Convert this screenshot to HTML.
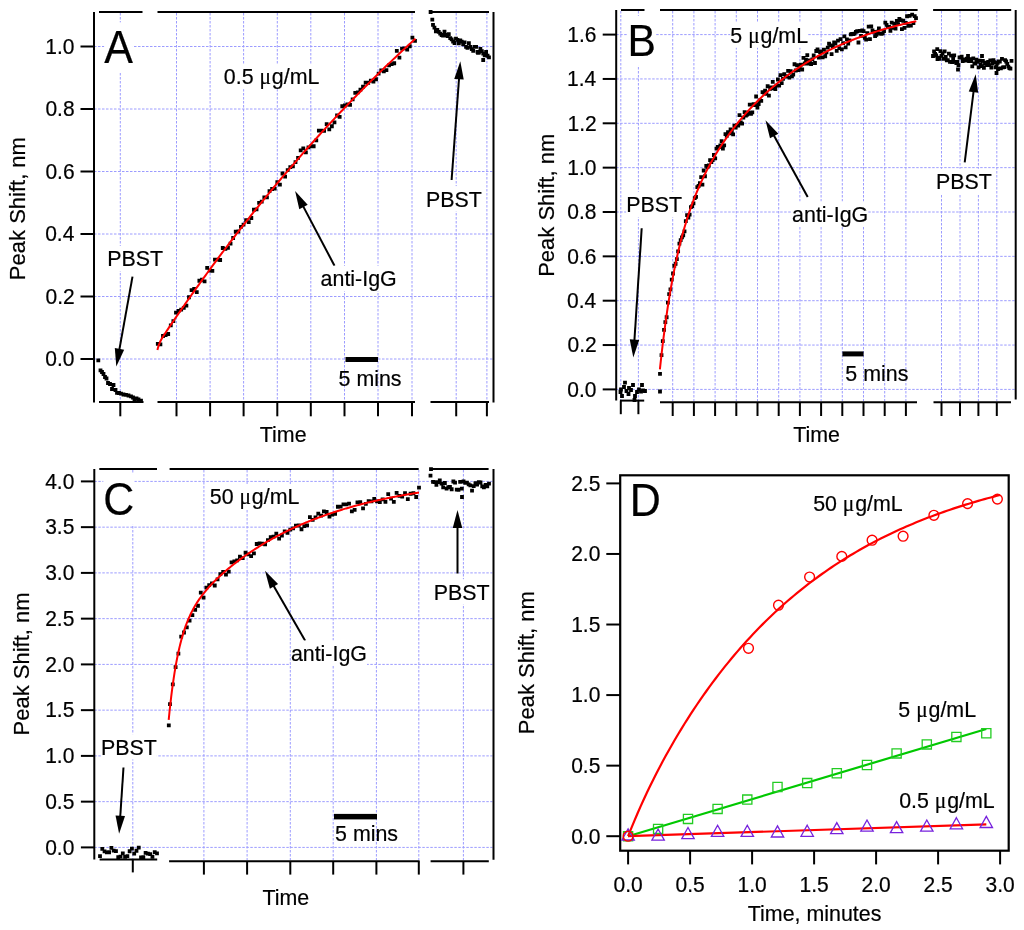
<!DOCTYPE html>
<html><head><meta charset="utf-8"><title>Peak shift</title>
<style>html,body{margin:0;padding:0;background:#fff;}svg{display:block;will-change:transform;}</style>
</head><body>
<svg width="1024" height="930" viewBox="0 0 1024 930">
<rect width="1024" height="930" fill="#fff"/>
<style>text{stroke:#000;stroke-width:0.2px;}</style>
<g font-family='"Liberation Sans", sans-serif' fill="#000">
<line x1="120.3" y1="13" x2="120.3" y2="402" stroke="#9c9cff" stroke-width="1" stroke-dasharray="2.5,1.5"/>
<line x1="176.5" y1="13" x2="176.5" y2="402" stroke="#9c9cff" stroke-width="1" stroke-dasharray="2.5,1.5"/>
<line x1="210.1" y1="13" x2="210.1" y2="402" stroke="#9c9cff" stroke-width="1" stroke-dasharray="2.5,1.5"/>
<line x1="243.6" y1="13" x2="243.6" y2="402" stroke="#9c9cff" stroke-width="1" stroke-dasharray="2.5,1.5"/>
<line x1="277.3" y1="13" x2="277.3" y2="402" stroke="#9c9cff" stroke-width="1" stroke-dasharray="2.5,1.5"/>
<line x1="310.8" y1="13" x2="310.8" y2="402" stroke="#9c9cff" stroke-width="1" stroke-dasharray="2.5,1.5"/>
<line x1="344.5" y1="13" x2="344.5" y2="402" stroke="#9c9cff" stroke-width="1" stroke-dasharray="2.5,1.5"/>
<line x1="378" y1="13" x2="378" y2="402" stroke="#9c9cff" stroke-width="1" stroke-dasharray="2.5,1.5"/>
<line x1="412" y1="13" x2="412" y2="402" stroke="#9c9cff" stroke-width="1" stroke-dasharray="2.5,1.5"/>
<line x1="456.2" y1="13" x2="456.2" y2="402" stroke="#9c9cff" stroke-width="1" stroke-dasharray="2.5,1.5"/>
<line x1="486.9" y1="13" x2="486.9" y2="402" stroke="#9c9cff" stroke-width="1" stroke-dasharray="2.5,1.5"/>
<line x1="94" y1="359" x2="492.5" y2="359" stroke="#9c9cff" stroke-width="1" stroke-dasharray="2.5,1.5"/>
<line x1="94" y1="296.5" x2="492.5" y2="296.5" stroke="#9c9cff" stroke-width="1" stroke-dasharray="2.5,1.5"/>
<line x1="94" y1="234" x2="492.5" y2="234" stroke="#9c9cff" stroke-width="1" stroke-dasharray="2.5,1.5"/>
<line x1="94" y1="171.5" x2="492.5" y2="171.5" stroke="#9c9cff" stroke-width="1" stroke-dasharray="2.5,1.5"/>
<line x1="94" y1="109" x2="492.5" y2="109" stroke="#9c9cff" stroke-width="1" stroke-dasharray="2.5,1.5"/>
<line x1="94" y1="46.5" x2="492.5" y2="46.5" stroke="#9c9cff" stroke-width="1" stroke-dasharray="2.5,1.5"/>
<line x1="94" y1="12" x2="94" y2="402.5" stroke="#000" stroke-width="2"/>
<line x1="493.5" y1="12" x2="493.5" y2="402.5" stroke="#000" stroke-width="2"/>
<line x1="99" y1="12" x2="142.5" y2="12" stroke="#000" stroke-width="2"/>
<line x1="157.5" y1="12" x2="415" y2="12" stroke="#000" stroke-width="2"/>
<line x1="429" y1="12" x2="489" y2="12" stroke="#000" stroke-width="2"/>
<line x1="99" y1="402" x2="143.5" y2="402" stroke="#000" stroke-width="2"/>
<line x1="157.5" y1="402" x2="415" y2="402" stroke="#000" stroke-width="2"/>
<line x1="430.5" y1="402" x2="489" y2="402" stroke="#000" stroke-width="2"/>
<line x1="120.3" y1="402" x2="120.3" y2="416.3" stroke="#000" stroke-width="2"/>
<line x1="176.5" y1="402" x2="176.5" y2="416.3" stroke="#000" stroke-width="2"/>
<line x1="210.1" y1="402" x2="210.1" y2="416.3" stroke="#000" stroke-width="2"/>
<line x1="243.6" y1="402" x2="243.6" y2="416.3" stroke="#000" stroke-width="2"/>
<line x1="277.3" y1="402" x2="277.3" y2="416.3" stroke="#000" stroke-width="2"/>
<line x1="310.8" y1="402" x2="310.8" y2="416.3" stroke="#000" stroke-width="2"/>
<line x1="344.5" y1="402" x2="344.5" y2="416.3" stroke="#000" stroke-width="2"/>
<line x1="378" y1="402" x2="378" y2="416.3" stroke="#000" stroke-width="2"/>
<line x1="412" y1="402" x2="412" y2="416.3" stroke="#000" stroke-width="2"/>
<line x1="456.2" y1="402" x2="456.2" y2="416.3" stroke="#000" stroke-width="2"/>
<line x1="486.9" y1="402" x2="486.9" y2="416.3" stroke="#000" stroke-width="2"/>
<line x1="80.5" y1="359" x2="94" y2="359" stroke="#000" stroke-width="2"/>
<text transform="translate(74.52,366.3) scale(1,1.055)" font-size="21.0" text-anchor="end" >0.0</text>
<line x1="80.5" y1="296.5" x2="94" y2="296.5" stroke="#000" stroke-width="2"/>
<text transform="translate(74.76,303.8) scale(1,1.055)" font-size="21.0" text-anchor="end" >0.2</text>
<line x1="80.5" y1="234" x2="94" y2="234" stroke="#000" stroke-width="2"/>
<text transform="translate(74.32,241.3) scale(1,1.055)" font-size="21.0" text-anchor="end" >0.4</text>
<line x1="80.5" y1="171.5" x2="94" y2="171.5" stroke="#000" stroke-width="2"/>
<text transform="translate(74.62,178.8) scale(1,1.055)" font-size="21.0" text-anchor="end" >0.6</text>
<line x1="80.5" y1="109" x2="94" y2="109" stroke="#000" stroke-width="2"/>
<text transform="translate(74.61,116.3) scale(1,1.055)" font-size="21.0" text-anchor="end" >0.8</text>
<line x1="80.5" y1="46.5" x2="94" y2="46.5" stroke="#000" stroke-width="2"/>
<text transform="translate(74.52,53.8) scale(1,1.055)" font-size="21.0" text-anchor="end" >1.0</text>
<path d="M96.4 358.5h3.8v3.8h-3.8zM98.6 368.4h3.8v3.8h-3.8zM100.1 370.1h3.8v3.8h-3.8zM101.6 372.1h3.8v3.8h-3.8zM103.1 375.1h3.8v3.8h-3.8zM104.6 376.6h3.8v3.8h-3.8zM106.1 381.1h3.8v3.8h-3.8zM108.1 382.1h3.8v3.8h-3.8zM110.1 387.1h3.8v3.8h-3.8zM111.6 383.1h3.8v3.8h-3.8zM113.6 388.1h3.8v3.8h-3.8zM115.1 390.9h3.8v3.8h-3.8zM117.1 391.1h3.8v3.8h-3.8zM119.1 391.7h3.8v3.8h-3.8zM121.6 392.6h3.8v3.8h-3.8zM124.1 392.9h3.8v3.8h-3.8zM126.6 393.6h3.8v3.8h-3.8zM129.1 394.5h3.8v3.8h-3.8zM131.1 395.6h3.8v3.8h-3.8zM132.6 397.1h3.8v3.8h-3.8zM134.6 396.6h3.8v3.8h-3.8zM136.6 397.6h3.8v3.8h-3.8zM139.1 398.7h3.8v3.8h-3.8zM155.9 341.94h3.8v3.8h-3.8zM158.5 342.45h3.8v3.8h-3.8zM161.1 334.08h3.8v3.8h-3.8zM163.69 333.19h3.8v3.8h-3.8zM166.29 332.09h3.8v3.8h-3.8zM168.89 323.41h3.8v3.8h-3.8zM171.49 319.18h3.8v3.8h-3.8zM174.09 310.65h3.8v3.8h-3.8zM176.68 309.03h3.8v3.8h-3.8zM179.28 307.81h3.8v3.8h-3.8zM181.88 306.04h3.8v3.8h-3.8zM184.48 303.68h3.8v3.8h-3.8zM187.08 295.33h3.8v3.8h-3.8zM189.67 288.18h3.8v3.8h-3.8zM192.27 286.95h3.8v3.8h-3.8zM194.87 290.14h3.8v3.8h-3.8zM197.47 278.85h3.8v3.8h-3.8zM200.07 277.86h3.8v3.8h-3.8zM202.66 279.54h3.8v3.8h-3.8zM205.26 265.99h3.8v3.8h-3.8zM207.86 268.77h3.8v3.8h-3.8zM210.46 269.07h3.8v3.8h-3.8zM213.06 257.63h3.8v3.8h-3.8zM215.65 257.63h3.8v3.8h-3.8zM218.25 258.11h3.8v3.8h-3.8zM220.85 246.11h3.8v3.8h-3.8zM223.45 246.95h3.8v3.8h-3.8zM226.05 246.02h3.8v3.8h-3.8zM228.64 241.71h3.8v3.8h-3.8zM231.24 236.1h3.8v3.8h-3.8zM233.84 229.83h3.8v3.8h-3.8zM236.44 229.61h3.8v3.8h-3.8zM239.04 224.96h3.8v3.8h-3.8zM241.63 222.79h3.8v3.8h-3.8zM244.23 218.25h3.8v3.8h-3.8zM246.83 220.15h3.8v3.8h-3.8zM249.43 216.11h3.8v3.8h-3.8zM252.03 207.85h3.8v3.8h-3.8zM254.62 207.45h3.8v3.8h-3.8zM257.22 200.96h3.8v3.8h-3.8zM259.82 199.7h3.8v3.8h-3.8zM262.42 195.4h3.8v3.8h-3.8zM265.02 195.57h3.8v3.8h-3.8zM267.61 189.26h3.8v3.8h-3.8zM270.21 187.09h3.8v3.8h-3.8zM272.81 186.82h3.8v3.8h-3.8zM275.41 180.34h3.8v3.8h-3.8zM278.01 182.67h3.8v3.8h-3.8zM280.6 171.6h3.8v3.8h-3.8zM283.2 174.7h3.8v3.8h-3.8zM285.8 168.15h3.8v3.8h-3.8zM288.4 165.16h3.8v3.8h-3.8zM290.99 164.42h3.8v3.8h-3.8zM293.59 160.19h3.8v3.8h-3.8zM296.19 156.02h3.8v3.8h-3.8zM298.79 148.5h3.8v3.8h-3.8zM301.39 146.54h3.8v3.8h-3.8zM303.98 150.38h3.8v3.8h-3.8zM306.58 145.42h3.8v3.8h-3.8zM309.18 144.4h3.8v3.8h-3.8zM311.78 144.35h3.8v3.8h-3.8zM314.38 138.47h3.8v3.8h-3.8zM316.97 128.68h3.8v3.8h-3.8zM319.57 128.64h3.8v3.8h-3.8zM322.17 128.92h3.8v3.8h-3.8zM324.77 122.16h3.8v3.8h-3.8zM327.37 127.38h3.8v3.8h-3.8zM329.96 124.37h3.8v3.8h-3.8zM332.56 120.52h3.8v3.8h-3.8zM335.16 113.62h3.8v3.8h-3.8zM337.76 114.93h3.8v3.8h-3.8zM340.36 104.37h3.8v3.8h-3.8zM342.95 103.6h3.8v3.8h-3.8zM345.55 102.59h3.8v3.8h-3.8zM348.15 102.96h3.8v3.8h-3.8zM350.75 97.46h3.8v3.8h-3.8zM353.35 90.95h3.8v3.8h-3.8zM355.94 90.57h3.8v3.8h-3.8zM358.54 87.72h3.8v3.8h-3.8zM361.14 84.83h3.8v3.8h-3.8zM363.74 80.73h3.8v3.8h-3.8zM366.34 80.87h3.8v3.8h-3.8zM368.93 78.65h3.8v3.8h-3.8zM371.53 79.66h3.8v3.8h-3.8zM374.13 77.34h3.8v3.8h-3.8zM376.73 71.78h3.8v3.8h-3.8zM379.33 68.56h3.8v3.8h-3.8zM381.92 69.53h3.8v3.8h-3.8zM384.52 68.22h3.8v3.8h-3.8zM387.12 63.39h3.8v3.8h-3.8zM389.72 62.29h3.8v3.8h-3.8zM392.32 61.34h3.8v3.8h-3.8zM394.91 49h3.8v3.8h-3.8zM397.51 55.73h3.8v3.8h-3.8zM400.11 46.71h3.8v3.8h-3.8zM402.71 46.48h3.8v3.8h-3.8zM405.31 47.6h3.8v3.8h-3.8zM407.9 44.33h3.8v3.8h-3.8zM410.5 35.68h3.8v3.8h-3.8zM413.1 38.93h3.8v3.8h-3.8zM428.7 10.1h3.8v3.8h-3.8zM430.4 17.7h3.8v3.8h-3.8zM431.1 23.04h3.8v3.8h-3.8zM432.54 25.76h3.8v3.8h-3.8zM433.97 29.55h3.8v3.8h-3.8zM435.41 27.96h3.8v3.8h-3.8zM436.84 29.93h3.8v3.8h-3.8zM438.28 31.63h3.8v3.8h-3.8zM439.72 33.1h3.8v3.8h-3.8zM441.15 33.58h3.8v3.8h-3.8zM442.59 29.63h3.8v3.8h-3.8zM444.02 33.09h3.8v3.8h-3.8zM445.46 34.14h3.8v3.8h-3.8zM446.89 32.31h3.8v3.8h-3.8zM448.33 36.2h3.8v3.8h-3.8zM449.77 37.4h3.8v3.8h-3.8zM451.2 39.59h3.8v3.8h-3.8zM452.64 41.09h3.8v3.8h-3.8zM454.07 36.66h3.8v3.8h-3.8zM455.51 38.03h3.8v3.8h-3.8zM456.95 41.33h3.8v3.8h-3.8zM458.38 38.51h3.8v3.8h-3.8zM459.82 39.65h3.8v3.8h-3.8zM461.25 42.45h3.8v3.8h-3.8zM462.69 40.4h3.8v3.8h-3.8zM464.13 44.88h3.8v3.8h-3.8zM465.56 45.91h3.8v3.8h-3.8zM467 41.19h3.8v3.8h-3.8zM468.43 44.94h3.8v3.8h-3.8zM469.87 47.21h3.8v3.8h-3.8zM471.31 48.92h3.8v3.8h-3.8zM472.74 45.01h3.8v3.8h-3.8zM474.18 44.91h3.8v3.8h-3.8zM475.61 50.02h3.8v3.8h-3.8zM477.05 50.8h3.8v3.8h-3.8zM478.48 46.88h3.8v3.8h-3.8zM479.92 49.24h3.8v3.8h-3.8zM481.36 51.81h3.8v3.8h-3.8zM482.79 53.42h3.8v3.8h-3.8zM484.23 49.88h3.8v3.8h-3.8zM485.66 53.86h3.8v3.8h-3.8zM487.1 55.57h3.8v3.8h-3.8zM481.3 58.1h3.8v3.8h-3.8zM476.1 51h3.8v3.8h-3.8z" fill="#000"/>
<polyline points="157.4,349.94 158.7,345.26 159.99,342.06 161.29,339.52 162.59,337.31 163.88,335.25 165.18,333.25 166.48,331.29 167.78,329.35 169.07,327.43 170.37,325.51 171.67,323.59 172.96,321.69 174.26,319.78 175.56,317.89 176.85,315.99 178.15,314.1 179.45,312.22 180.75,310.34 182.04,308.47 183.34,306.6 184.64,304.74 185.93,302.88 187.23,301.02 188.53,299.17 189.82,297.33 191.12,295.49 192.42,293.65 193.72,291.82 195.01,290 196.31,288.18 197.61,286.36 198.9,284.55 200.2,282.74 201.5,280.94 202.79,279.14 204.09,277.35 205.39,275.56 206.69,273.77 207.98,271.99 209.28,270.22 210.58,268.45 211.87,266.68 213.17,264.92 214.47,263.16 215.76,261.41 217.06,259.66 218.36,257.92 219.66,256.18 220.95,254.44 222.25,252.71 223.55,250.99 224.84,249.26 226.14,247.55 227.44,245.83 228.73,244.13 230.03,242.42 231.33,240.72 232.63,239.03 233.92,237.34 235.22,235.65 236.52,233.97 237.81,232.29 239.11,230.61 240.41,228.94 241.7,227.28 243,225.62 244.3,223.96 245.59,222.31 246.89,220.66 248.19,219.02 249.49,217.38 250.78,215.74 252.08,214.11 253.38,212.48 254.67,210.86 255.97,209.24 257.27,207.63 258.56,206.01 259.86,204.41 261.16,202.81 262.46,201.21 263.75,199.61 265.05,198.02 266.35,196.44 267.64,194.85 268.94,193.28 270.24,191.7 271.53,190.13 272.83,188.57 274.13,187 275.43,185.45 276.72,183.89 278.02,182.34 279.32,180.8 280.61,179.25 281.91,177.72 283.21,176.18 284.5,174.65 285.8,173.12 287.1,171.6 288.4,170.08 289.69,168.57 290.99,167.06 292.29,165.55 293.58,164.05 294.88,162.55 296.18,161.05 297.47,159.56 298.77,158.07 300.07,156.59 301.37,155.11 302.66,153.63 303.96,152.16 305.26,150.69 306.55,149.23 307.85,147.76 309.15,146.31 310.44,144.85 311.74,143.4 313.04,141.96 314.34,140.51 315.63,139.07 316.93,137.64 318.23,136.21 319.52,134.78 320.82,133.35 322.12,131.93 323.41,130.52 324.71,129.1 326.01,127.69 327.31,126.29 328.6,124.88 329.9,123.48 331.2,122.09 332.49,120.7 333.79,119.31 335.09,117.92 336.38,116.54 337.68,115.16 338.98,113.79 340.27,112.42 341.57,111.05 342.87,109.69 344.17,108.33 345.46,106.97 346.76,105.62 348.06,104.27 349.35,102.92 350.65,101.58 351.95,100.24 353.24,98.9 354.54,97.57 355.84,96.24 357.14,94.91 358.43,93.59 359.73,92.27 361.03,90.96 362.32,89.64 363.62,88.34 364.92,87.03 366.21,85.73 367.51,84.43 368.81,83.13 370.11,81.84 371.4,80.55 372.7,79.27 374,77.98 375.29,76.7 376.59,75.43 377.89,74.16 379.18,72.89 380.48,71.62 381.78,70.36 383.08,69.1 384.37,67.84 385.67,66.59 386.97,65.34 388.26,64.09 389.56,62.85 390.86,61.61 392.15,60.37 393.45,59.13 394.75,57.9 396.05,56.68 397.34,55.45 398.64,54.23 399.94,53.01 401.23,51.79 402.53,50.58 403.83,49.37 405.12,48.17 406.42,46.96 407.72,45.76 409.02,44.57 410.31,43.37 411.61,42.18 412.91,41 414.2,39.81 415.5,38.63" fill="none" stroke="#f00" stroke-width="2.0" stroke-linejoin="round"/>
<rect x="104.22" y="22.34" width="28.68" height="50.67" fill="#fff"/>
<text transform="translate(104.22,63.4) scale(1,1.055)" font-size="43" text-anchor="start" >A</text>
<rect x="223.86" y="63.97" width="95.6" height="25.22" fill="#fff"/>
<text transform="translate(223.86,84.4) scale(1,1.055)" font-size="21.4" text-anchor="start" >0.5 <tspan font-family="Liberation Serif">μ</tspan><tspan dx="0.86">g/mL</tspan></text>
<line x1="132.5" y1="276.6" x2="119.13" y2="350.85" stroke="#000" stroke-width="2"/>
<polygon points="116.3,366.6 114.81,348.04 124.16,349.73" fill="#000"/>
<rect x="107.24" y="245.87" width="55.89" height="25.22" fill="#fff"/>
<text transform="translate(107.24,266.3) scale(1,1.055)" font-size="21.4" text-anchor="start" >PBST</text>
<line x1="334.5" y1="265.7" x2="302.56" y2="205.15" stroke="#000" stroke-width="2"/>
<polygon points="295.1,191 307.7,204.71 299.3,209.14" fill="#000"/>
<rect x="320.59" y="265.77" width="76.12" height="25.22" fill="#fff"/>
<text transform="translate(320.59,286.2) scale(1,1.055)" font-size="21.4" text-anchor="start" >anti-IgG</text>
<line x1="451.6" y1="180" x2="459.13" y2="77.26" stroke="#000" stroke-width="2"/>
<polygon points="460.3,61.3 463.72,79.6 454.25,78.9" fill="#000"/>
<rect x="426.04" y="186.07" width="55.89" height="25.22" fill="#fff"/>
<text transform="translate(426.04,206.5) scale(1,1.055)" font-size="21.4" text-anchor="start" >PBST</text>
<text transform="translate(338.54,386.3) scale(1,1.055)" font-size="21.4" text-anchor="start" >5 mins</text>
<rect x="345.5" y="357" width="32.5" height="5" fill="#000"/>
<text transform="translate(259.82,442.2) scale(1,1.055)" font-size="21.4" text-anchor="start" >Time</text>
<text transform="translate(24.7,208.6) rotate(-90)" font-size="22" text-anchor="middle">Peak Shift, nm</text>
<line x1="620.8" y1="11" x2="620.8" y2="401" stroke="#9c9cff" stroke-width="1" stroke-dasharray="2.5,1.5"/>
<line x1="638.4" y1="11" x2="638.4" y2="401" stroke="#9c9cff" stroke-width="1" stroke-dasharray="2.5,1.5"/>
<line x1="672.7" y1="11" x2="672.7" y2="401" stroke="#9c9cff" stroke-width="1" stroke-dasharray="2.5,1.5"/>
<line x1="693.9" y1="11" x2="693.9" y2="401" stroke="#9c9cff" stroke-width="1" stroke-dasharray="2.5,1.5"/>
<line x1="715.1" y1="11" x2="715.1" y2="401" stroke="#9c9cff" stroke-width="1" stroke-dasharray="2.5,1.5"/>
<line x1="736.3" y1="11" x2="736.3" y2="401" stroke="#9c9cff" stroke-width="1" stroke-dasharray="2.5,1.5"/>
<line x1="757.5" y1="11" x2="757.5" y2="401" stroke="#9c9cff" stroke-width="1" stroke-dasharray="2.5,1.5"/>
<line x1="778.7" y1="11" x2="778.7" y2="401" stroke="#9c9cff" stroke-width="1" stroke-dasharray="2.5,1.5"/>
<line x1="799.9" y1="11" x2="799.9" y2="401" stroke="#9c9cff" stroke-width="1" stroke-dasharray="2.5,1.5"/>
<line x1="821.1" y1="11" x2="821.1" y2="401" stroke="#9c9cff" stroke-width="1" stroke-dasharray="2.5,1.5"/>
<line x1="842.3" y1="11" x2="842.3" y2="401" stroke="#9c9cff" stroke-width="1" stroke-dasharray="2.5,1.5"/>
<line x1="863.5" y1="11" x2="863.5" y2="401" stroke="#9c9cff" stroke-width="1" stroke-dasharray="2.5,1.5"/>
<line x1="884.7" y1="11" x2="884.7" y2="401" stroke="#9c9cff" stroke-width="1" stroke-dasharray="2.5,1.5"/>
<line x1="905.9" y1="11" x2="905.9" y2="401" stroke="#9c9cff" stroke-width="1" stroke-dasharray="2.5,1.5"/>
<line x1="941.5" y1="11" x2="941.5" y2="401" stroke="#9c9cff" stroke-width="1" stroke-dasharray="2.5,1.5"/>
<line x1="960" y1="11" x2="960" y2="401" stroke="#9c9cff" stroke-width="1" stroke-dasharray="2.5,1.5"/>
<line x1="978.4" y1="11" x2="978.4" y2="401" stroke="#9c9cff" stroke-width="1" stroke-dasharray="2.5,1.5"/>
<line x1="996.8" y1="11" x2="996.8" y2="401" stroke="#9c9cff" stroke-width="1" stroke-dasharray="2.5,1.5"/>
<line x1="616.2" y1="389.4" x2="1014.7" y2="389.4" stroke="#9c9cff" stroke-width="1" stroke-dasharray="2.5,1.5"/>
<line x1="616.2" y1="345.05" x2="1014.7" y2="345.05" stroke="#9c9cff" stroke-width="1" stroke-dasharray="2.5,1.5"/>
<line x1="616.2" y1="300.7" x2="1014.7" y2="300.7" stroke="#9c9cff" stroke-width="1" stroke-dasharray="2.5,1.5"/>
<line x1="616.2" y1="256.35" x2="1014.7" y2="256.35" stroke="#9c9cff" stroke-width="1" stroke-dasharray="2.5,1.5"/>
<line x1="616.2" y1="212" x2="1014.7" y2="212" stroke="#9c9cff" stroke-width="1" stroke-dasharray="2.5,1.5"/>
<line x1="616.2" y1="167.65" x2="1014.7" y2="167.65" stroke="#9c9cff" stroke-width="1" stroke-dasharray="2.5,1.5"/>
<line x1="616.2" y1="123.3" x2="1014.7" y2="123.3" stroke="#9c9cff" stroke-width="1" stroke-dasharray="2.5,1.5"/>
<line x1="616.2" y1="78.95" x2="1014.7" y2="78.95" stroke="#9c9cff" stroke-width="1" stroke-dasharray="2.5,1.5"/>
<line x1="616.2" y1="34.6" x2="1014.7" y2="34.6" stroke="#9c9cff" stroke-width="1" stroke-dasharray="2.5,1.5"/>
<line x1="616.2" y1="10" x2="616.2" y2="400.5" stroke="#000" stroke-width="2"/>
<line x1="1015.7" y1="10" x2="1015.7" y2="399.5" stroke="#000" stroke-width="2"/>
<line x1="621" y1="10" x2="644.5" y2="10" stroke="#000" stroke-width="2"/>
<line x1="660" y1="10" x2="917.6" y2="10" stroke="#000" stroke-width="2"/>
<line x1="933.1" y1="10" x2="1011.2" y2="10" stroke="#000" stroke-width="2"/>
<line x1="620" y1="400.6" x2="644.2" y2="400.6" stroke="#000" stroke-width="2"/>
<line x1="620.8" y1="400.6" x2="620.8" y2="414.2" stroke="#000" stroke-width="2"/>
<line x1="638.4" y1="400.6" x2="638.4" y2="414.2" stroke="#000" stroke-width="2"/>
<line x1="660" y1="402.2" x2="917" y2="402.2" stroke="#000" stroke-width="2"/>
<line x1="933.5" y1="402.2" x2="1011" y2="402.2" stroke="#000" stroke-width="2"/>
<line x1="672.7" y1="402.2" x2="672.7" y2="416" stroke="#000" stroke-width="2"/>
<line x1="693.9" y1="402.2" x2="693.9" y2="416" stroke="#000" stroke-width="2"/>
<line x1="715.1" y1="402.2" x2="715.1" y2="416" stroke="#000" stroke-width="2"/>
<line x1="736.3" y1="402.2" x2="736.3" y2="416" stroke="#000" stroke-width="2"/>
<line x1="757.5" y1="402.2" x2="757.5" y2="416" stroke="#000" stroke-width="2"/>
<line x1="778.7" y1="402.2" x2="778.7" y2="416" stroke="#000" stroke-width="2"/>
<line x1="799.9" y1="402.2" x2="799.9" y2="416" stroke="#000" stroke-width="2"/>
<line x1="821.1" y1="402.2" x2="821.1" y2="416" stroke="#000" stroke-width="2"/>
<line x1="842.3" y1="402.2" x2="842.3" y2="416" stroke="#000" stroke-width="2"/>
<line x1="863.5" y1="402.2" x2="863.5" y2="416" stroke="#000" stroke-width="2"/>
<line x1="884.7" y1="402.2" x2="884.7" y2="416" stroke="#000" stroke-width="2"/>
<line x1="905.9" y1="402.2" x2="905.9" y2="416" stroke="#000" stroke-width="2"/>
<line x1="941.5" y1="402.2" x2="941.5" y2="416" stroke="#000" stroke-width="2"/>
<line x1="960" y1="402.2" x2="960" y2="416" stroke="#000" stroke-width="2"/>
<line x1="978.4" y1="402.2" x2="978.4" y2="416" stroke="#000" stroke-width="2"/>
<line x1="996.8" y1="402.2" x2="996.8" y2="416" stroke="#000" stroke-width="2"/>
<line x1="602.7" y1="389.4" x2="616.2" y2="389.4" stroke="#000" stroke-width="2"/>
<text transform="translate(596.42,396.7) scale(1,1.055)" font-size="21.0" text-anchor="end" >0.0</text>
<line x1="602.7" y1="345.05" x2="616.2" y2="345.05" stroke="#000" stroke-width="2"/>
<text transform="translate(596.66,352.35) scale(1,1.055)" font-size="21.0" text-anchor="end" >0.2</text>
<line x1="602.7" y1="300.7" x2="616.2" y2="300.7" stroke="#000" stroke-width="2"/>
<text transform="translate(596.22,308) scale(1,1.055)" font-size="21.0" text-anchor="end" >0.4</text>
<line x1="602.7" y1="256.35" x2="616.2" y2="256.35" stroke="#000" stroke-width="2"/>
<text transform="translate(596.52,263.65) scale(1,1.055)" font-size="21.0" text-anchor="end" >0.6</text>
<line x1="602.7" y1="212" x2="616.2" y2="212" stroke="#000" stroke-width="2"/>
<text transform="translate(596.51,219.3) scale(1,1.055)" font-size="21.0" text-anchor="end" >0.8</text>
<line x1="602.7" y1="167.65" x2="616.2" y2="167.65" stroke="#000" stroke-width="2"/>
<text transform="translate(596.42,174.95) scale(1,1.055)" font-size="21.0" text-anchor="end" >1.0</text>
<line x1="602.7" y1="123.3" x2="616.2" y2="123.3" stroke="#000" stroke-width="2"/>
<text transform="translate(596.66,130.6) scale(1,1.055)" font-size="21.0" text-anchor="end" >1.2</text>
<line x1="602.7" y1="78.95" x2="616.2" y2="78.95" stroke="#000" stroke-width="2"/>
<text transform="translate(596.22,86.25) scale(1,1.055)" font-size="21.0" text-anchor="end" >1.4</text>
<line x1="602.7" y1="34.6" x2="616.2" y2="34.6" stroke="#000" stroke-width="2"/>
<text transform="translate(596.52,41.9) scale(1,1.055)" font-size="21.0" text-anchor="end" >1.6</text>
<path d="M623.1 380.8h3.8v3.8h-3.8zM631.1 383.1h3.8v3.8h-3.8zM640.1 383.1h3.8v3.8h-3.8zM619.1 387.6h3.8v3.8h-3.8zM622.1 385.1h3.8v3.8h-3.8zM627.1 386.1h3.8v3.8h-3.8zM629.1 388.1h3.8v3.8h-3.8zM626.6 392.1h3.8v3.8h-3.8zM620.1 394.1h3.8v3.8h-3.8zM633.1 394.1h3.8v3.8h-3.8zM637.1 387.6h3.8v3.8h-3.8zM641.1 388.6h3.8v3.8h-3.8zM643.1 389.1h3.8v3.8h-3.8zM632.6 398.1h3.8v3.8h-3.8zM624.6 389.1h3.8v3.8h-3.8zM635.1 390.1h3.8v3.8h-3.8zM639.1 389.6h3.8v3.8h-3.8zM618.6 390.1h3.8v3.8h-3.8zM658.1 389.6h3.8v3.8h-3.8zM658.1 372h3.8v3.8h-3.8zM659.6 353.19h3.8v3.8h-3.8zM660.88 339.24h3.8v3.8h-3.8zM662.16 327.94h3.8v3.8h-3.8zM663.44 320.27h3.8v3.8h-3.8zM664.72 315.37h3.8v3.8h-3.8zM665.99 300.69h3.8v3.8h-3.8zM667.27 292.28h3.8v3.8h-3.8zM668.55 287.43h3.8v3.8h-3.8zM669.83 277.78h3.8v3.8h-3.8zM671.11 271.58h3.8v3.8h-3.8zM672.39 264.03h3.8v3.8h-3.8zM673.67 261.83h3.8v3.8h-3.8zM674.95 257.29h3.8v3.8h-3.8zM676.23 249.51h3.8v3.8h-3.8zM677.5 241.8h3.8v3.8h-3.8zM678.78 238.25h3.8v3.8h-3.8zM680.06 235.43h3.8v3.8h-3.8zM681.34 233.54h3.8v3.8h-3.8zM682.62 229.47h3.8v3.8h-3.8zM683.9 219.15h3.8v3.8h-3.8zM685.18 213.17h3.8v3.8h-3.8zM686.46 215.75h3.8v3.8h-3.8zM687.74 212.69h3.8v3.8h-3.8zM689.01 205.26h3.8v3.8h-3.8zM690.29 204.21h3.8v3.8h-3.8zM691.57 201.53h3.8v3.8h-3.8zM692.85 196.16h3.8v3.8h-3.8zM694.13 195.05h3.8v3.8h-3.8zM695.41 185.15h3.8v3.8h-3.8zM696.69 184.11h3.8v3.8h-3.8zM697.97 181.24h3.8v3.8h-3.8zM699.25 175.24h3.8v3.8h-3.8zM700.52 182.75h3.8v3.8h-3.8zM701.8 168.62h3.8v3.8h-3.8zM703.08 174.35h3.8v3.8h-3.8zM704.36 163.98h3.8v3.8h-3.8zM705.64 165.26h3.8v3.8h-3.8zM706.92 163.58h3.8v3.8h-3.8zM708.2 158.13h3.8v3.8h-3.8zM709.48 160.23h3.8v3.8h-3.8zM710.76 158.15h3.8v3.8h-3.8zM712.03 153.1h3.8v3.8h-3.8zM713.31 156.4h3.8v3.8h-3.8zM714.59 146.77h3.8v3.8h-3.8zM715.87 145.11h3.8v3.8h-3.8zM717.15 145.18h3.8v3.8h-3.8zM718.43 143.49h3.8v3.8h-3.8zM719.71 139.29h3.8v3.8h-3.8zM720.99 146.63h3.8v3.8h-3.8zM722.27 143.56h3.8v3.8h-3.8zM723.54 132.32h3.8v3.8h-3.8zM724.82 133.91h3.8v3.8h-3.8zM726.1 130.34h3.8v3.8h-3.8zM727.38 131.41h3.8v3.8h-3.8zM728.66 127.41h3.8v3.8h-3.8zM729.94 128.63h3.8v3.8h-3.8zM731.22 132.42h3.8v3.8h-3.8zM732.5 123.75h3.8v3.8h-3.8zM733.78 125.6h3.8v3.8h-3.8zM735.05 123.29h3.8v3.8h-3.8zM736.33 123.74h3.8v3.8h-3.8zM737.61 113.21h3.8v3.8h-3.8zM738.89 120.56h3.8v3.8h-3.8zM740.17 121.67h3.8v3.8h-3.8zM741.45 115.72h3.8v3.8h-3.8zM742.73 110.15h3.8v3.8h-3.8zM744.01 113.7h3.8v3.8h-3.8zM745.29 112.79h3.8v3.8h-3.8zM746.56 110.66h3.8v3.8h-3.8zM747.84 102.65h3.8v3.8h-3.8zM749.12 112.03h3.8v3.8h-3.8zM750.4 110.44h3.8v3.8h-3.8zM751.68 102.21h3.8v3.8h-3.8zM752.96 103.1h3.8v3.8h-3.8zM754.24 94.6h3.8v3.8h-3.8zM755.52 105.66h3.8v3.8h-3.8zM756.8 102.19h3.8v3.8h-3.8zM758.07 98.57h3.8v3.8h-3.8zM759.35 98.96h3.8v3.8h-3.8zM760.63 90.3h3.8v3.8h-3.8zM761.91 90.66h3.8v3.8h-3.8zM763.19 88.68h3.8v3.8h-3.8zM764.47 92.06h3.8v3.8h-3.8zM765.75 84.35h3.8v3.8h-3.8zM767.03 93.66h3.8v3.8h-3.8zM768.31 86.91h3.8v3.8h-3.8zM769.58 85.57h3.8v3.8h-3.8zM770.86 80.05h3.8v3.8h-3.8zM772.14 86.52h3.8v3.8h-3.8zM773.42 87.16h3.8v3.8h-3.8zM774.7 83.68h3.8v3.8h-3.8zM775.98 77.6h3.8v3.8h-3.8zM777.26 83.63h3.8v3.8h-3.8zM778.54 73.3h3.8v3.8h-3.8zM779.82 81.16h3.8v3.8h-3.8zM781.09 76.97h3.8v3.8h-3.8zM782.37 72.2h3.8v3.8h-3.8zM783.65 74.15h3.8v3.8h-3.8zM784.93 74.7h3.8v3.8h-3.8zM786.21 68.94h3.8v3.8h-3.8zM787.49 75.66h3.8v3.8h-3.8zM788.77 69.21h3.8v3.8h-3.8zM790.05 74.43h3.8v3.8h-3.8zM791.33 72.79h3.8v3.8h-3.8zM792.61 62.34h3.8v3.8h-3.8zM793.88 68.58h3.8v3.8h-3.8zM795.16 63.35h3.8v3.8h-3.8zM796.44 68.26h3.8v3.8h-3.8zM797.72 64.67h3.8v3.8h-3.8zM799 62.74h3.8v3.8h-3.8zM800.28 67.61h3.8v3.8h-3.8zM801.56 55.9h3.8v3.8h-3.8zM802.84 61.6h3.8v3.8h-3.8zM804.12 57.83h3.8v3.8h-3.8zM805.39 53.24h3.8v3.8h-3.8zM806.67 61.81h3.8v3.8h-3.8zM807.95 58.55h3.8v3.8h-3.8zM809.23 62.12h3.8v3.8h-3.8zM810.51 57.53h3.8v3.8h-3.8zM811.79 53.4h3.8v3.8h-3.8zM813.07 61.1h3.8v3.8h-3.8zM814.35 49.08h3.8v3.8h-3.8zM815.63 47.55h3.8v3.8h-3.8zM816.9 55.69h3.8v3.8h-3.8zM818.18 50.3h3.8v3.8h-3.8zM819.46 49.49h3.8v3.8h-3.8zM820.74 55.52h3.8v3.8h-3.8zM822.02 47.71h3.8v3.8h-3.8zM823.3 54.36h3.8v3.8h-3.8zM824.58 50.52h3.8v3.8h-3.8zM825.86 45.78h3.8v3.8h-3.8zM827.14 41.65h3.8v3.8h-3.8zM828.41 43.43h3.8v3.8h-3.8zM829.69 52.22h3.8v3.8h-3.8zM830.97 44.29h3.8v3.8h-3.8zM832.25 40.5h3.8v3.8h-3.8zM833.53 41.69h3.8v3.8h-3.8zM834.81 48.92h3.8v3.8h-3.8zM836.09 38.79h3.8v3.8h-3.8zM837.37 46.19h3.8v3.8h-3.8zM838.65 37.26h3.8v3.8h-3.8zM839.92 47.44h3.8v3.8h-3.8zM841.2 41.29h3.8v3.8h-3.8zM842.48 34.41h3.8v3.8h-3.8zM843.76 45.41h3.8v3.8h-3.8zM845.04 37.43h3.8v3.8h-3.8zM846.32 41.75h3.8v3.8h-3.8zM847.6 38.53h3.8v3.8h-3.8zM848.88 32.41h3.8v3.8h-3.8zM850.16 32.08h3.8v3.8h-3.8zM851.43 32.14h3.8v3.8h-3.8zM852.71 31.8h3.8v3.8h-3.8zM853.99 29.9h3.8v3.8h-3.8zM855.27 29.34h3.8v3.8h-3.8zM856.55 40.58h3.8v3.8h-3.8zM857.83 28.97h3.8v3.8h-3.8zM859.11 33.92h3.8v3.8h-3.8zM860.39 28.4h3.8v3.8h-3.8zM861.67 29.19h3.8v3.8h-3.8zM862.94 35.87h3.8v3.8h-3.8zM864.22 37.7h3.8v3.8h-3.8zM865.5 31.18h3.8v3.8h-3.8zM866.78 24.71h3.8v3.8h-3.8zM868.06 37.2h3.8v3.8h-3.8zM869.34 24.41h3.8v3.8h-3.8zM870.62 28.43h3.8v3.8h-3.8zM871.9 29.96h3.8v3.8h-3.8zM873.18 34.14h3.8v3.8h-3.8zM874.45 32.85h3.8v3.8h-3.8zM875.73 29.67h3.8v3.8h-3.8zM877.01 26.54h3.8v3.8h-3.8zM878.29 31.82h3.8v3.8h-3.8zM879.57 31.88h3.8v3.8h-3.8zM880.85 31.54h3.8v3.8h-3.8zM882.13 29.16h3.8v3.8h-3.8zM883.41 20.74h3.8v3.8h-3.8zM884.69 22.98h3.8v3.8h-3.8zM885.96 25.06h3.8v3.8h-3.8zM887.24 24.95h3.8v3.8h-3.8zM888.52 28.86h3.8v3.8h-3.8zM889.8 20.78h3.8v3.8h-3.8zM891.08 25.98h3.8v3.8h-3.8zM892.36 21.87h3.8v3.8h-3.8zM893.64 26.75h3.8v3.8h-3.8zM894.92 18.88h3.8v3.8h-3.8zM896.2 22.21h3.8v3.8h-3.8zM897.47 17.04h3.8v3.8h-3.8zM898.75 18.13h3.8v3.8h-3.8zM900.03 27.21h3.8v3.8h-3.8zM901.31 18.85h3.8v3.8h-3.8zM902.59 26.05h3.8v3.8h-3.8zM903.87 20.95h3.8v3.8h-3.8zM905.15 14.34h3.8v3.8h-3.8zM906.43 23.85h3.8v3.8h-3.8zM907.71 13.92h3.8v3.8h-3.8zM908.98 23.71h3.8v3.8h-3.8zM910.26 12.79h3.8v3.8h-3.8zM911.54 21.15h3.8v3.8h-3.8zM912.82 14.27h3.8v3.8h-3.8zM914.1 16.3h3.8v3.8h-3.8zM931.1 54.08h3.8v3.8h-3.8zM932.16 49.59h3.8v3.8h-3.8zM933.22 52.09h3.8v3.8h-3.8zM934.28 53.59h3.8v3.8h-3.8zM935.34 47.2h3.8v3.8h-3.8zM936.4 55.74h3.8v3.8h-3.8zM937.46 57.06h3.8v3.8h-3.8zM938.53 49.19h3.8v3.8h-3.8zM939.59 53.93h3.8v3.8h-3.8zM940.65 51.46h3.8v3.8h-3.8zM941.71 56.89h3.8v3.8h-3.8zM942.77 49.44h3.8v3.8h-3.8zM943.83 55.12h3.8v3.8h-3.8zM944.89 58.55h3.8v3.8h-3.8zM945.95 58.23h3.8v3.8h-3.8zM947.01 51.65h3.8v3.8h-3.8zM948.07 59.91h3.8v3.8h-3.8zM949.13 53.64h3.8v3.8h-3.8zM950.19 60.17h3.8v3.8h-3.8zM951.26 57.01h3.8v3.8h-3.8zM952.32 53.54h3.8v3.8h-3.8zM953.38 60.07h3.8v3.8h-3.8zM954.44 61.1h3.8v3.8h-3.8zM955.5 60.1h3.8v3.8h-3.8zM956.56 63.21h3.8v3.8h-3.8zM957.62 55.6h3.8v3.8h-3.8zM958.68 55.55h3.8v3.8h-3.8zM959.74 54.73h3.8v3.8h-3.8zM960.8 59.2h3.8v3.8h-3.8zM961.86 57.81h3.8v3.8h-3.8zM962.92 57.48h3.8v3.8h-3.8zM963.99 58.75h3.8v3.8h-3.8zM965.05 56.83h3.8v3.8h-3.8zM966.11 53.98h3.8v3.8h-3.8zM967.17 59.23h3.8v3.8h-3.8zM968.23 57.18h3.8v3.8h-3.8zM969.29 59.2h3.8v3.8h-3.8zM970.35 64.56h3.8v3.8h-3.8zM971.41 56.4h3.8v3.8h-3.8zM972.47 61.53h3.8v3.8h-3.8zM973.53 61.69h3.8v3.8h-3.8zM974.59 57.77h3.8v3.8h-3.8zM975.65 59.93h3.8v3.8h-3.8zM976.71 65.49h3.8v3.8h-3.8zM977.78 58.66h3.8v3.8h-3.8zM978.84 62.79h3.8v3.8h-3.8zM979.9 64.25h3.8v3.8h-3.8zM980.96 59.03h3.8v3.8h-3.8zM982.02 66.01h3.8v3.8h-3.8zM983.08 62.06h3.8v3.8h-3.8zM984.14 60.73h3.8v3.8h-3.8zM985.2 63.13h3.8v3.8h-3.8zM986.26 59.97h3.8v3.8h-3.8zM987.32 63.18h3.8v3.8h-3.8zM988.38 58.41h3.8v3.8h-3.8zM989.44 65.62h3.8v3.8h-3.8zM990.51 61.42h3.8v3.8h-3.8zM991.57 58.15h3.8v3.8h-3.8zM992.63 60.33h3.8v3.8h-3.8zM993.69 65.4h3.8v3.8h-3.8zM994.75 64.46h3.8v3.8h-3.8zM995.81 60.94h3.8v3.8h-3.8zM996.87 59.5h3.8v3.8h-3.8zM997.93 59.8h3.8v3.8h-3.8zM998.99 66.47h3.8v3.8h-3.8zM1000.05 56.94h3.8v3.8h-3.8zM1001.11 65.5h3.8v3.8h-3.8zM1002.17 65.18h3.8v3.8h-3.8zM1003.24 58.23h3.8v3.8h-3.8zM1004.3 59.62h3.8v3.8h-3.8zM1005.36 62.06h3.8v3.8h-3.8zM1006.42 64.64h3.8v3.8h-3.8zM1007.48 66.28h3.8v3.8h-3.8zM1008.54 66.75h3.8v3.8h-3.8zM1009.6 58.95h3.8v3.8h-3.8zM935.6 57.1h3.8v3.8h-3.8zM956.1 67.6h3.8v3.8h-3.8zM994.6 71.1h3.8v3.8h-3.8zM996.1 67.1h3.8v3.8h-3.8zM980.1 54.1h3.8v3.8h-3.8z" fill="#000"/>
<polyline points="659.9,369.28 660.76,361.31 661.62,353.67 662.47,346.33 663.33,339.3 664.19,332.54 665.05,326.04 665.9,319.8 666.76,313.8 667.62,308.02 668.48,302.47 669.33,297.12 670.19,291.96 671.05,286.99 671.91,282.2 672.76,277.57 673.62,273.11 674.48,268.79 675.34,264.62 676.19,260.59 677.05,256.69 677.91,252.92 678.77,249.26 679.62,245.72 680.48,242.29 681.34,238.96 682.2,235.72 683.05,232.58 683.91,229.53 684.77,226.57 685.63,223.68 686.48,220.88 687.34,218.15 688.2,215.48 689.06,212.89 689.91,210.36 690.77,207.89 691.63,205.49 692.49,203.13 693.34,200.84 694.2,198.59 695.06,196.4 695.92,194.25 696.77,192.15 697.63,190.09 698.49,188.07 699.35,186.09 700.2,184.16 701.06,182.26 701.92,180.39 702.78,178.56 703.63,176.77 704.49,175 705.35,173.27 706.21,171.56 707.06,169.89 707.92,168.24 708.78,166.62 709.64,165.02 710.49,163.45 711.35,161.9 712.21,160.38 713.07,158.88 713.92,157.4 714.78,155.94 715.64,154.5 716.5,153.08 717.35,151.68 718.21,150.3 719.07,148.94 719.93,147.6 720.78,146.27 721.64,144.96 722.5,143.66 723.36,142.38 724.21,141.12 725.07,139.87 725.93,138.64 726.79,137.42 727.64,136.21 728.5,135.02 729.36,133.84 730.22,132.68 731.07,131.52 731.93,130.38 732.79,129.26 733.65,128.14 734.5,127.03 735.36,125.94 736.22,124.86 737.08,123.79 737.93,122.73 738.79,121.68 739.65,120.64 740.51,119.61 741.36,118.59 742.22,117.59 743.08,116.59 743.94,115.6 744.79,114.62 745.65,113.65 746.51,112.69 747.37,111.73 748.23,110.79 749.08,109.86 749.94,108.93 750.8,108.01 751.66,107.1 752.51,106.2 753.37,105.31 754.23,104.42 755.09,103.55 755.94,102.68 756.8,101.82 757.66,100.96 758.52,100.12 759.37,99.28 760.23,98.45 761.09,97.63 761.95,96.81 762.8,96 763.66,95.2 764.52,94.4 765.38,93.61 766.23,92.83 767.09,92.06 767.95,91.29 768.81,90.53 769.66,89.77 770.52,89.02 771.38,88.28 772.24,87.54 773.09,86.81 773.95,86.09 774.81,85.37 775.67,84.66 776.52,83.95 777.38,83.25 778.24,82.56 779.1,81.87 779.95,81.19 780.81,80.51 781.67,79.84 782.53,79.18 783.38,78.52 784.24,77.87 785.1,77.22 785.96,76.57 786.81,75.94 787.67,75.3 788.53,74.68 789.39,74.05 790.24,73.44 791.1,72.83 791.96,72.22 792.82,71.62 793.67,71.02 794.53,70.43 795.39,69.84 796.25,69.26 797.1,68.68 797.96,68.11 798.82,67.55 799.68,66.98 800.53,66.42 801.39,65.87 802.25,65.32 803.11,64.78 803.96,64.24 804.82,63.7 805.68,63.17 806.54,62.64 807.39,62.12 808.25,61.6 809.11,61.09 809.97,60.58 810.82,60.08 811.68,59.57 812.54,59.08 813.4,58.58 814.25,58.1 815.11,57.61 815.97,57.13 816.83,56.65 817.68,56.18 818.54,55.71 819.4,55.25 820.26,54.78 821.11,54.33 821.97,53.87 822.83,53.42 823.69,52.98 824.54,52.53 825.4,52.09 826.26,51.66 827.12,51.23 827.97,50.8 828.83,50.37 829.69,49.95 830.55,49.53 831.41,49.12 832.26,48.71 833.12,48.3 833.98,47.9 834.84,47.49 835.69,47.1 836.55,46.7 837.41,46.31 838.27,45.92 839.12,45.54 839.98,45.16 840.84,44.78 841.7,44.4 842.55,44.03 843.41,43.66 844.27,43.29 845.13,42.93 845.98,42.57 846.84,42.21 847.7,41.86 848.56,41.51 849.41,41.16 850.27,40.81 851.13,40.47 851.99,40.13 852.84,39.79 853.7,39.46 854.56,39.13 855.42,38.8 856.27,38.47 857.13,38.15 857.99,37.83 858.85,37.51 859.7,37.19 860.56,36.88 861.42,36.57 862.28,36.26 863.13,35.95 863.99,35.65 864.85,35.35 865.71,35.05 866.56,34.76 867.42,34.46 868.28,34.17 869.14,33.88 869.99,33.6 870.85,33.31 871.71,33.03 872.57,32.75 873.42,32.48 874.28,32.2 875.14,31.93 876,31.66 876.85,31.39 877.71,31.13 878.57,30.86 879.43,30.6 880.28,30.34 881.14,30.08 882,29.83 882.86,29.58 883.71,29.33 884.57,29.08 885.43,28.83 886.29,28.59 887.14,28.34 888,28.1 888.86,27.86 889.72,27.63 890.57,27.39 891.43,27.16 892.29,26.93 893.15,26.7 894,26.47 894.86,26.25 895.72,26.02 896.58,25.8 897.43,25.58 898.29,25.36 899.15,25.15 900.01,24.93 900.86,24.72 901.72,24.51 902.58,24.3 903.44,24.09 904.29,23.89 905.15,23.68 906.01,23.48 906.87,23.28 907.72,23.08 908.58,22.88 909.44,22.68 910.3,22.49 911.15,22.3 912.01,22.11 912.87,21.92 913.73,21.73 914.58,21.54 915.44,21.36 916.3,21.17" fill="none" stroke="#f00" stroke-width="2.0" stroke-linejoin="round"/>
<rect x="627.51" y="15.82" width="28.35" height="50.08" fill="#fff"/>
<text transform="translate(627.51,56.4) scale(1,1.055)" font-size="42.5" text-anchor="start" >B</text>
<rect x="730.34" y="22.57" width="77.75" height="25.22" fill="#fff"/>
<text transform="translate(730.34,43) scale(1,1.055)" font-size="21.4" text-anchor="start" >5 <tspan font-family="Liberation Serif">μ</tspan><tspan dx="0.86">g/mL</tspan></text>
<line x1="641.7" y1="228.3" x2="634.34" y2="341.63" stroke="#000" stroke-width="2"/>
<polygon points="633.3,357.6 629.73,339.33 639.21,339.95" fill="#000"/>
<rect x="626.14" y="191.77" width="55.89" height="25.22" fill="#fff"/>
<text transform="translate(626.14,212.2) scale(1,1.055)" font-size="21.4" text-anchor="start" >PBST</text>
<line x1="807.7" y1="197" x2="773.21" y2="134.22" stroke="#000" stroke-width="2"/>
<polygon points="765.5,120.2 778.33,133.69 770.01,138.26" fill="#000"/>
<rect x="792.09" y="201.47" width="76.12" height="25.22" fill="#fff"/>
<text transform="translate(792.09,221.9) scale(1,1.055)" font-size="21.4" text-anchor="start" >anti-IgG</text>
<line x1="964.7" y1="162.4" x2="973.72" y2="90.08" stroke="#000" stroke-width="2"/>
<polygon points="975.7,74.2 978.19,92.65 968.76,91.47" fill="#000"/>
<rect x="936.04" y="168.77" width="55.89" height="25.22" fill="#fff"/>
<text transform="translate(936.04,189.2) scale(1,1.055)" font-size="21.4" text-anchor="start" >PBST</text>
<text transform="translate(845.34,381.1) scale(1,1.055)" font-size="21.4" text-anchor="start" >5 mins</text>
<rect x="842.4" y="351.4" width="21.2" height="5" fill="#000"/>
<text transform="translate(793.22,441.8) scale(1,1.055)" font-size="21.4" text-anchor="start" >Time</text>
<text transform="translate(554.3,205.3) rotate(-90)" font-size="22" text-anchor="middle">Peak Shift, nm</text>
<line x1="132.8" y1="470" x2="132.8" y2="860" stroke="#9c9cff" stroke-width="1" stroke-dasharray="2.5,1.5"/>
<line x1="203.9" y1="470" x2="203.9" y2="860" stroke="#9c9cff" stroke-width="1" stroke-dasharray="2.5,1.5"/>
<line x1="247.1" y1="470" x2="247.1" y2="860" stroke="#9c9cff" stroke-width="1" stroke-dasharray="2.5,1.5"/>
<line x1="290.3" y1="470" x2="290.3" y2="860" stroke="#9c9cff" stroke-width="1" stroke-dasharray="2.5,1.5"/>
<line x1="333.2" y1="470" x2="333.2" y2="860" stroke="#9c9cff" stroke-width="1" stroke-dasharray="2.5,1.5"/>
<line x1="376.4" y1="470" x2="376.4" y2="860" stroke="#9c9cff" stroke-width="1" stroke-dasharray="2.5,1.5"/>
<line x1="418.8" y1="470" x2="418.8" y2="860" stroke="#9c9cff" stroke-width="1" stroke-dasharray="2.5,1.5"/>
<line x1="463.4" y1="470" x2="463.4" y2="860" stroke="#9c9cff" stroke-width="1" stroke-dasharray="2.5,1.5"/>
<line x1="94.3" y1="847.4" x2="492.5" y2="847.4" stroke="#9c9cff" stroke-width="1" stroke-dasharray="2.5,1.5"/>
<line x1="94.3" y1="801.65" x2="492.5" y2="801.65" stroke="#9c9cff" stroke-width="1" stroke-dasharray="2.5,1.5"/>
<line x1="94.3" y1="755.9" x2="492.5" y2="755.9" stroke="#9c9cff" stroke-width="1" stroke-dasharray="2.5,1.5"/>
<line x1="94.3" y1="710.15" x2="492.5" y2="710.15" stroke="#9c9cff" stroke-width="1" stroke-dasharray="2.5,1.5"/>
<line x1="94.3" y1="664.4" x2="492.5" y2="664.4" stroke="#9c9cff" stroke-width="1" stroke-dasharray="2.5,1.5"/>
<line x1="94.3" y1="618.65" x2="492.5" y2="618.65" stroke="#9c9cff" stroke-width="1" stroke-dasharray="2.5,1.5"/>
<line x1="94.3" y1="572.9" x2="492.5" y2="572.9" stroke="#9c9cff" stroke-width="1" stroke-dasharray="2.5,1.5"/>
<line x1="94.3" y1="527.15" x2="492.5" y2="527.15" stroke="#9c9cff" stroke-width="1" stroke-dasharray="2.5,1.5"/>
<line x1="94.3" y1="481.4" x2="492.5" y2="481.4" stroke="#9c9cff" stroke-width="1" stroke-dasharray="2.5,1.5"/>
<line x1="94.3" y1="469" x2="94.3" y2="859.5" stroke="#000" stroke-width="2"/>
<line x1="493.5" y1="469" x2="493.5" y2="859.8" stroke="#000" stroke-width="2"/>
<line x1="99.3" y1="469" x2="157" y2="469" stroke="#000" stroke-width="2"/>
<line x1="169.6" y1="469" x2="418.7" y2="469" stroke="#000" stroke-width="2"/>
<line x1="431.5" y1="469" x2="488.6" y2="469" stroke="#000" stroke-width="2"/>
<line x1="99.6" y1="859.6" x2="157.2" y2="859.6" stroke="#000" stroke-width="2"/>
<line x1="132.8" y1="859.6" x2="132.8" y2="872.4" stroke="#000" stroke-width="2"/>
<line x1="169.1" y1="861.3" x2="419.6" y2="861.3" stroke="#000" stroke-width="2"/>
<line x1="430.6" y1="861.3" x2="488.8" y2="861.3" stroke="#000" stroke-width="2"/>
<line x1="203.9" y1="861.3" x2="203.9" y2="874.6" stroke="#000" stroke-width="2"/>
<line x1="247.1" y1="861.3" x2="247.1" y2="874.6" stroke="#000" stroke-width="2"/>
<line x1="290.3" y1="861.3" x2="290.3" y2="874.6" stroke="#000" stroke-width="2"/>
<line x1="333.2" y1="861.3" x2="333.2" y2="874.6" stroke="#000" stroke-width="2"/>
<line x1="376.4" y1="861.3" x2="376.4" y2="874.6" stroke="#000" stroke-width="2"/>
<line x1="418.8" y1="861.3" x2="418.8" y2="874.6" stroke="#000" stroke-width="2"/>
<line x1="463.4" y1="861.3" x2="463.4" y2="874.6" stroke="#000" stroke-width="2"/>
<line x1="80.9" y1="847.4" x2="94.3" y2="847.4" stroke="#000" stroke-width="2"/>
<text transform="translate(74.32,854.7) scale(1,1.055)" font-size="21.0" text-anchor="end" >0.0</text>
<line x1="80.9" y1="801.65" x2="94.3" y2="801.65" stroke="#000" stroke-width="2"/>
<text transform="translate(74.38,808.95) scale(1,1.055)" font-size="21.0" text-anchor="end" >0.5</text>
<line x1="80.9" y1="755.9" x2="94.3" y2="755.9" stroke="#000" stroke-width="2"/>
<text transform="translate(74.32,763.2) scale(1,1.055)" font-size="21.0" text-anchor="end" >1.0</text>
<line x1="80.9" y1="710.15" x2="94.3" y2="710.15" stroke="#000" stroke-width="2"/>
<text transform="translate(74.38,717.45) scale(1,1.055)" font-size="21.0" text-anchor="end" >1.5</text>
<line x1="80.9" y1="664.4" x2="94.3" y2="664.4" stroke="#000" stroke-width="2"/>
<text transform="translate(74.32,671.7) scale(1,1.055)" font-size="21.0" text-anchor="end" >2.0</text>
<line x1="80.9" y1="618.65" x2="94.3" y2="618.65" stroke="#000" stroke-width="2"/>
<text transform="translate(74.38,625.95) scale(1,1.055)" font-size="21.0" text-anchor="end" >2.5</text>
<line x1="80.9" y1="572.9" x2="94.3" y2="572.9" stroke="#000" stroke-width="2"/>
<text transform="translate(74.32,580.2) scale(1,1.055)" font-size="21.0" text-anchor="end" >3.0</text>
<line x1="80.9" y1="527.15" x2="94.3" y2="527.15" stroke="#000" stroke-width="2"/>
<text transform="translate(74.38,534.45) scale(1,1.055)" font-size="21.0" text-anchor="end" >3.5</text>
<line x1="80.9" y1="481.4" x2="94.3" y2="481.4" stroke="#000" stroke-width="2"/>
<text transform="translate(74.32,488.7) scale(1,1.055)" font-size="21.0" text-anchor="end" >4.0</text>
<path d="M98.1 854.29h3.8v3.8h-3.8zM100.38 846.89h3.8v3.8h-3.8zM102.66 849.39h3.8v3.8h-3.8zM104.94 850.48h3.8v3.8h-3.8zM107.22 850.37h3.8v3.8h-3.8zM109.5 845.99h3.8v3.8h-3.8zM111.78 848.77h3.8v3.8h-3.8zM114.06 849.17h3.8v3.8h-3.8zM116.34 855.16h3.8v3.8h-3.8zM118.62 854.77h3.8v3.8h-3.8zM120.9 851.44h3.8v3.8h-3.8zM123.18 854.93h3.8v3.8h-3.8zM125.46 854.24h3.8v3.8h-3.8zM127.74 849.36h3.8v3.8h-3.8zM130.02 846.77h3.8v3.8h-3.8zM132.3 851.67h3.8v3.8h-3.8zM134.58 848.83h3.8v3.8h-3.8zM136.86 845.7h3.8v3.8h-3.8zM139.14 855.41h3.8v3.8h-3.8zM141.42 855.29h3.8v3.8h-3.8zM143.7 850.97h3.8v3.8h-3.8zM145.98 851.78h3.8v3.8h-3.8zM148.26 852.29h3.8v3.8h-3.8zM150.54 854.87h3.8v3.8h-3.8zM152.82 850.28h3.8v3.8h-3.8zM155.1 851.43h3.8v3.8h-3.8zM166.9 723.5h3.8v3.8h-3.8zM168.1 702.27h3.8v3.8h-3.8zM170.9 682.42h3.8v3.8h-3.8zM173.7 665.16h3.8v3.8h-3.8zM176.49 651.81h3.8v3.8h-3.8zM179.29 634.7h3.8v3.8h-3.8zM182.09 630.59h3.8v3.8h-3.8zM184.89 625.43h3.8v3.8h-3.8zM187.68 618.67h3.8v3.8h-3.8zM190.48 613.2h3.8v3.8h-3.8zM193.28 607.95h3.8v3.8h-3.8zM196.08 603.86h3.8v3.8h-3.8zM198.88 590.7h3.8v3.8h-3.8zM201.67 595.69h3.8v3.8h-3.8zM204.47 585.82h3.8v3.8h-3.8zM207.27 583.13h3.8v3.8h-3.8zM210.07 581.5h3.8v3.8h-3.8zM212.86 583.61h3.8v3.8h-3.8zM215.66 577.38h3.8v3.8h-3.8zM218.46 572.24h3.8v3.8h-3.8zM221.26 569.94h3.8v3.8h-3.8zM224.06 572.81h3.8v3.8h-3.8zM226.85 569.63h3.8v3.8h-3.8zM229.65 560.49h3.8v3.8h-3.8zM232.45 559.39h3.8v3.8h-3.8zM235.25 558.46h3.8v3.8h-3.8zM238.04 554.81h3.8v3.8h-3.8zM240.84 556.23h3.8v3.8h-3.8zM243.64 550.84h3.8v3.8h-3.8zM246.44 552.41h3.8v3.8h-3.8zM249.23 554.13h3.8v3.8h-3.8zM252.03 551.4h3.8v3.8h-3.8zM254.83 542.11h3.8v3.8h-3.8zM257.63 541.43h3.8v3.8h-3.8zM260.43 541.77h3.8v3.8h-3.8zM263.22 542.43h3.8v3.8h-3.8zM266.02 538.2h3.8v3.8h-3.8zM268.82 535.25h3.8v3.8h-3.8zM271.62 534.63h3.8v3.8h-3.8zM274.41 531.7h3.8v3.8h-3.8zM277.21 536.79h3.8v3.8h-3.8zM280.01 533.7h3.8v3.8h-3.8zM282.81 529.43h3.8v3.8h-3.8zM285.61 530.94h3.8v3.8h-3.8zM288.4 527.79h3.8v3.8h-3.8zM291.2 526.54h3.8v3.8h-3.8zM294 523.67h3.8v3.8h-3.8zM296.8 523.62h3.8v3.8h-3.8zM299.59 527.37h3.8v3.8h-3.8zM302.39 524.17h3.8v3.8h-3.8zM305.19 523.44h3.8v3.8h-3.8zM307.99 515.27h3.8v3.8h-3.8zM310.79 517.96h3.8v3.8h-3.8zM313.58 515.5h3.8v3.8h-3.8zM316.38 511.66h3.8v3.8h-3.8zM319.18 513.69h3.8v3.8h-3.8zM321.98 509.47h3.8v3.8h-3.8zM324.77 510.09h3.8v3.8h-3.8zM327.57 514.78h3.8v3.8h-3.8zM330.37 512.71h3.8v3.8h-3.8zM333.17 511.92h3.8v3.8h-3.8zM335.97 504.84h3.8v3.8h-3.8zM338.76 504.81h3.8v3.8h-3.8zM341.56 502.54h3.8v3.8h-3.8zM344.36 502.46h3.8v3.8h-3.8zM347.16 501.69h3.8v3.8h-3.8zM349.95 509.49h3.8v3.8h-3.8zM352.75 508.05h3.8v3.8h-3.8zM355.55 500.4h3.8v3.8h-3.8zM358.35 500.16h3.8v3.8h-3.8zM361.14 506.51h3.8v3.8h-3.8zM363.94 501.9h3.8v3.8h-3.8zM366.74 499.2h3.8v3.8h-3.8zM369.54 499.52h3.8v3.8h-3.8zM372.34 496.92h3.8v3.8h-3.8zM375.13 499.4h3.8v3.8h-3.8zM377.93 500.19h3.8v3.8h-3.8zM380.73 497.49h3.8v3.8h-3.8zM383.53 499.95h3.8v3.8h-3.8zM386.32 492.29h3.8v3.8h-3.8zM389.12 496.63h3.8v3.8h-3.8zM391.92 499.94h3.8v3.8h-3.8zM394.72 491h3.8v3.8h-3.8zM397.52 493.93h3.8v3.8h-3.8zM400.31 494.77h3.8v3.8h-3.8zM403.11 491.35h3.8v3.8h-3.8zM405.91 497.13h3.8v3.8h-3.8zM408.71 491.86h3.8v3.8h-3.8zM411.5 491.33h3.8v3.8h-3.8zM414.3 495.11h3.8v3.8h-3.8zM417.1 485.8h3.8v3.8h-3.8zM429.1 467.3h3.8v3.8h-3.8zM428.6 473.8h3.8v3.8h-3.8zM460.1 495.1h3.8v3.8h-3.8zM431.1 479.97h3.8v3.8h-3.8zM432.8 480.22h3.8v3.8h-3.8zM434.49 482.99h3.8v3.8h-3.8zM436.19 480.27h3.8v3.8h-3.8zM437.89 478.45h3.8v3.8h-3.8zM439.58 481.79h3.8v3.8h-3.8zM441.28 485.54h3.8v3.8h-3.8zM442.98 481.1h3.8v3.8h-3.8zM444.68 486.81h3.8v3.8h-3.8zM446.37 485.36h3.8v3.8h-3.8zM448.07 484.98h3.8v3.8h-3.8zM449.77 487.37h3.8v3.8h-3.8zM451.46 479.6h3.8v3.8h-3.8zM453.16 480.7h3.8v3.8h-3.8zM454.86 487.8h3.8v3.8h-3.8zM456.55 487.87h3.8v3.8h-3.8zM458.25 480.01h3.8v3.8h-3.8zM459.95 486.78h3.8v3.8h-3.8zM461.65 479.58h3.8v3.8h-3.8zM463.34 480.83h3.8v3.8h-3.8zM465.04 480.67h3.8v3.8h-3.8zM466.74 482.53h3.8v3.8h-3.8zM468.43 483.53h3.8v3.8h-3.8zM470.13 488.64h3.8v3.8h-3.8zM471.83 484.17h3.8v3.8h-3.8zM473.52 481.26h3.8v3.8h-3.8zM475.22 482.78h3.8v3.8h-3.8zM476.92 480.32h3.8v3.8h-3.8zM478.62 480.61h3.8v3.8h-3.8zM480.31 484.57h3.8v3.8h-3.8zM482.01 485.44h3.8v3.8h-3.8zM483.71 483.02h3.8v3.8h-3.8zM485.4 484.36h3.8v3.8h-3.8zM487.1 481.79h3.8v3.8h-3.8z" fill="#000"/>
<polyline points="168.7,719.8 169.54,711.51 170.37,703.81 171.21,696.65 172.05,689.99 172.89,683.79 173.72,678.02 174.56,672.63 175.4,667.6 176.23,662.9 177.07,658.5 177.91,654.38 178.75,650.51 179.58,646.89 180.42,643.48 181.26,640.27 182.09,637.25 182.93,634.4 183.77,631.7 184.61,629.15 185.44,626.73 186.28,624.44 187.12,622.26 187.95,620.18 188.79,618.21 189.63,616.32 190.47,614.51 191.3,612.78 192.14,611.13 192.98,609.53 193.81,608 194.65,606.53 195.49,605.11 196.33,603.73 197.16,602.4 198,601.12 198.84,599.87 199.67,598.66 200.51,597.48 201.35,596.33 202.18,595.22 203.02,594.13 203.86,593.06 204.7,592.02 205.53,591.01 206.37,590.01 207.21,589.03 208.04,588.08 208.88,587.14 209.72,586.21 210.56,585.31 211.39,584.41 212.23,583.54 213.07,582.67 213.9,581.82 214.74,580.98 215.58,580.15 216.42,579.33 217.25,578.52 218.09,577.73 218.93,576.94 219.76,576.16 220.6,575.39 221.44,574.63 222.28,573.88 223.11,573.13 223.95,572.4 224.79,571.67 225.62,570.94 226.46,570.23 227.3,569.52 228.14,568.82 228.97,568.12 229.81,567.43 230.65,566.75 231.48,566.07 232.32,565.4 233.16,564.74 234,564.08 234.83,563.42 235.67,562.77 236.51,562.13 237.34,561.49 238.18,560.86 239.02,560.23 239.86,559.61 240.69,558.99 241.53,558.38 242.37,557.77 243.2,557.16 244.04,556.56 244.88,555.97 245.72,555.38 246.55,554.79 247.39,554.21 248.23,553.64 249.06,553.06 249.9,552.49 250.74,551.93 251.58,551.37 252.41,550.82 253.25,550.26 254.09,549.72 254.92,549.17 255.76,548.63 256.6,548.1 257.44,547.57 258.27,547.04 259.11,546.52 259.95,546 260.78,545.48 261.62,544.97 262.46,544.46 263.29,543.95 264.13,543.45 264.97,542.96 265.81,542.46 266.64,541.97 267.48,541.49 268.32,541 269.15,540.52 269.99,540.05 270.83,539.57 271.67,539.1 272.5,538.64 273.34,538.18 274.18,537.72 275.01,537.26 275.85,536.81 276.69,536.36 277.53,535.91 278.36,535.47 279.2,535.03 280.04,534.59 280.87,534.16 281.71,533.73 282.55,533.3 283.39,532.88 284.22,532.46 285.06,532.04 285.9,531.62 286.73,531.21 287.57,530.8 288.41,530.4 289.25,529.99 290.08,529.59 290.92,529.2 291.76,528.8 292.59,528.41 293.43,528.02 294.27,527.64 295.11,527.25 295.94,526.87 296.78,526.49 297.62,526.12 298.45,525.75 299.29,525.38 300.13,525.01 300.97,524.65 301.8,524.28 302.64,523.93 303.48,523.57 304.31,523.21 305.15,522.86 305.99,522.51 306.83,522.17 307.66,521.82 308.5,521.48 309.34,521.14 310.17,520.81 311.01,520.47 311.85,520.14 312.69,519.81 313.52,519.49 314.36,519.16 315.2,518.84 316.03,518.52 316.87,518.2 317.71,517.89 318.55,517.57 319.38,517.26 320.22,516.95 321.06,516.65 321.89,516.34 322.73,516.04 323.57,515.74 324.41,515.44 325.24,515.15 326.08,514.86 326.92,514.56 327.75,514.27 328.59,513.99 329.43,513.7 330.26,513.42 331.1,513.14 331.94,512.86 332.78,512.58 333.61,512.31 334.45,512.04 335.29,511.76 336.12,511.5 336.96,511.23 337.8,510.96 338.64,510.7 339.47,510.44 340.31,510.18 341.15,509.92 341.98,509.67 342.82,509.41 343.66,509.16 344.5,508.91 345.33,508.66 346.17,508.42 347.01,508.17 347.84,507.93 348.68,507.69 349.52,507.45 350.36,507.21 351.19,506.97 352.03,506.74 352.87,506.5 353.7,506.27 354.54,506.04 355.38,505.82 356.22,505.59 357.05,505.37 357.89,505.14 358.73,504.92 359.56,504.7 360.4,504.48 361.24,504.27 362.08,504.05 362.91,503.84 363.75,503.63 364.59,503.42 365.42,503.21 366.26,503 367.1,502.79 367.94,502.59 368.77,502.39 369.61,502.19 370.45,501.99 371.28,501.79 372.12,501.59 372.96,501.39 373.8,501.2 374.63,501.01 375.47,500.82 376.31,500.63 377.14,500.44 377.98,500.25 378.82,500.06 379.66,499.88 380.49,499.69 381.33,499.51 382.17,499.33 383,499.15 383.84,498.97 384.68,498.8 385.52,498.62 386.35,498.45 387.19,498.27 388.03,498.1 388.86,497.93 389.7,497.76 390.54,497.59 391.37,497.43 392.21,497.26 393.05,497.1 393.89,496.93 394.72,496.77 395.56,496.61 396.4,496.45 397.23,496.29 398.07,496.13 398.91,495.98 399.75,495.82 400.58,495.67 401.42,495.51 402.26,495.36 403.09,495.21 403.93,495.06 404.77,494.91 405.61,494.77 406.44,494.62 407.28,494.47 408.12,494.33 408.95,494.19 409.79,494.04 410.63,493.9 411.47,493.76 412.3,493.62 413.14,493.48 413.98,493.35 414.81,493.21 415.65,493.07 416.49,492.94 417.33,492.81 418.16,492.67 419,492.54" fill="none" stroke="#f00" stroke-width="2.0" stroke-linejoin="round"/>
<rect x="103.32" y="474.04" width="31.05" height="50.67" fill="#fff"/>
<text transform="translate(103.32,515.1) scale(1,1.055)" font-size="43" text-anchor="start" >C</text>
<rect x="209.74" y="483.97" width="89.65" height="25.22" fill="#fff"/>
<text transform="translate(209.74,504.4) scale(1,1.055)" font-size="21.4" text-anchor="start" >50 <tspan font-family="Liberation Serif">μ</tspan><tspan dx="0.86">g/mL</tspan></text>
<line x1="123.5" y1="767.5" x2="120.16" y2="817.74" stroke="#000" stroke-width="2"/>
<polygon points="119.1,833.7 115.55,815.42 125.03,816.05" fill="#000"/>
<rect x="100.94" y="734.17" width="55.89" height="25.22" fill="#fff"/>
<text transform="translate(100.94,754.6) scale(1,1.055)" font-size="21.4" text-anchor="start" >PBST</text>
<line x1="305.2" y1="640.7" x2="272.98" y2="584.67" stroke="#000" stroke-width="2"/>
<polygon points="265,570.8 278.09,584.04 269.86,588.77" fill="#000"/>
<rect x="290.89" y="640.47" width="76.12" height="25.22" fill="#fff"/>
<text transform="translate(290.89,660.9) scale(1,1.055)" font-size="21.4" text-anchor="start" >anti-IgG</text>
<line x1="457.5" y1="573.5" x2="457.5" y2="526" stroke="#000" stroke-width="2"/>
<polygon points="457.5,510 462.25,528 452.75,528" fill="#000"/>
<rect x="433.64" y="579.17" width="55.89" height="25.22" fill="#fff"/>
<text transform="translate(433.64,599.6) scale(1,1.055)" font-size="21.4" text-anchor="start" >PBST</text>
<text transform="translate(335.04,840.7) scale(1,1.055)" font-size="21.4" text-anchor="start" >5 mins</text>
<rect x="334" y="813.9" width="43" height="5.5" fill="#000"/>
<text transform="translate(262.42,905.2) scale(1,1.055)" font-size="21.4" text-anchor="start" >Time</text>
<text transform="translate(28.7,663.9) rotate(-90)" font-size="22" text-anchor="middle">Peak Shift, nm</text>
<rect x="620.2" y="475.3" width="388.5" height="375.4" fill="none" stroke="#000" stroke-width="2.2"/>
<line x1="606.3" y1="836.2" x2="620.2" y2="836.2" stroke="#000" stroke-width="2"/>
<text transform="translate(600.32,843.5) scale(1,1.055)" font-size="21.0" text-anchor="end" >0.0</text>
<line x1="606.3" y1="765.64" x2="620.2" y2="765.64" stroke="#000" stroke-width="2"/>
<text transform="translate(600.38,772.94) scale(1,1.055)" font-size="21.0" text-anchor="end" >0.5</text>
<line x1="606.3" y1="695.08" x2="620.2" y2="695.08" stroke="#000" stroke-width="2"/>
<text transform="translate(600.32,702.38) scale(1,1.055)" font-size="21.0" text-anchor="end" >1.0</text>
<line x1="606.3" y1="624.52" x2="620.2" y2="624.52" stroke="#000" stroke-width="2"/>
<text transform="translate(600.38,631.82) scale(1,1.055)" font-size="21.0" text-anchor="end" >1.5</text>
<line x1="606.3" y1="553.96" x2="620.2" y2="553.96" stroke="#000" stroke-width="2"/>
<text transform="translate(600.32,561.26) scale(1,1.055)" font-size="21.0" text-anchor="end" >2.0</text>
<line x1="606.3" y1="483.4" x2="620.2" y2="483.4" stroke="#000" stroke-width="2"/>
<text transform="translate(600.38,490.7) scale(1,1.055)" font-size="21.0" text-anchor="end" >2.5</text>
<line x1="628.1" y1="850.7" x2="628.1" y2="864.4" stroke="#000" stroke-width="2"/>
<text transform="translate(628.1,892) scale(1,1.055)" font-size="21.0" text-anchor="middle" >0.0</text>
<line x1="690.1" y1="850.7" x2="690.1" y2="864.4" stroke="#000" stroke-width="2"/>
<text transform="translate(690.1,892) scale(1,1.055)" font-size="21.0" text-anchor="middle" >0.5</text>
<line x1="752.1" y1="850.7" x2="752.1" y2="864.4" stroke="#000" stroke-width="2"/>
<text transform="translate(752.1,892) scale(1,1.055)" font-size="21.0" text-anchor="middle" >1.0</text>
<line x1="814.1" y1="850.7" x2="814.1" y2="864.4" stroke="#000" stroke-width="2"/>
<text transform="translate(814.1,892) scale(1,1.055)" font-size="21.0" text-anchor="middle" >1.5</text>
<line x1="876.1" y1="850.7" x2="876.1" y2="864.4" stroke="#000" stroke-width="2"/>
<text transform="translate(876.1,892) scale(1,1.055)" font-size="21.0" text-anchor="middle" >2.0</text>
<line x1="938.1" y1="850.7" x2="938.1" y2="864.4" stroke="#000" stroke-width="2"/>
<text transform="translate(938.1,892) scale(1,1.055)" font-size="21.0" text-anchor="middle" >2.5</text>
<line x1="1000.1" y1="850.7" x2="1000.1" y2="864.4" stroke="#000" stroke-width="2"/>
<text transform="translate(1000.1,892) scale(1,1.055)" font-size="21.0" text-anchor="middle" >3.0</text>
<text transform="translate(747.82,920.7) scale(1,1.055)" font-size="21.4" text-anchor="start" >Time, minutes</text>
<text transform="translate(534.1,662.7) rotate(-90)" font-size="22" text-anchor="middle">Peak Shift, nm</text>
<polyline points="628.1,836.2 631.23,828.38 634.35,820.83 637.48,813.51 640.6,806.41 643.73,799.52 646.86,792.83 649.98,786.31 653.11,779.96 656.23,773.77 659.36,767.73 662.49,761.83 665.61,756.06 668.74,750.43 671.86,744.92 674.99,739.52 678.12,734.24 681.24,729.07 684.37,724.01 687.49,719.05 690.62,714.18 693.75,709.41 696.87,704.74 700,700.15 703.13,695.65 706.25,691.24 709.38,686.91 712.5,682.66 715.63,678.49 718.76,674.4 721.88,670.38 725.01,666.44 728.13,662.57 731.26,658.77 734.39,655.04 737.51,651.38 740.64,647.79 743.76,644.26 746.89,640.79 750.02,637.39 753.14,634.05 756.27,630.77 759.39,627.55 762.52,624.38 765.65,621.28 768.77,618.23 771.9,615.23 775.02,612.29 778.15,609.4 781.28,606.56 784.4,603.78 787.53,601.04 790.65,598.36 793.78,595.72 796.91,593.13 800.03,590.58 803.16,588.09 806.28,585.63 809.41,583.22 812.54,580.86 815.66,578.53 818.79,576.25 821.92,574.01 825.04,571.81 828.17,569.65 831.29,567.52 834.42,565.44 837.55,563.39 840.67,561.38 843.8,559.4 846.92,557.47 850.05,555.56 853.18,553.69 856.3,551.85 859.43,550.05 862.55,548.28 865.68,546.54 868.81,544.83 871.93,543.15 875.06,541.5 878.18,539.89 881.31,538.3 884.44,536.73 887.56,535.2 890.69,533.7 893.81,532.22 896.94,530.77 900.07,529.34 903.19,527.94 906.32,526.56 909.44,525.21 912.57,523.89 915.7,522.58 918.82,521.31 921.95,520.05 925.07,518.82 928.2,517.6 931.33,516.41 934.45,515.24 937.58,514.1 940.71,512.97 943.83,511.86 946.96,510.78 950.08,509.71 953.21,508.66 956.34,507.63 959.46,506.62 962.59,505.63 965.71,504.65 968.84,503.69 971.97,502.75 975.09,501.83 978.22,500.92 981.34,500.03 984.47,499.15 987.6,498.3 990.72,497.45 993.85,496.62 996.97,495.81 1000.1,495.01" fill="none" stroke="#f00" stroke-width="2.2" stroke-linejoin="round"/>
<polyline points="628.1,836.2 986.3,729" fill="none" stroke="#00c800" stroke-width="2.2" stroke-linejoin="round"/>
<polyline points="628.1,836.2 986.3,824.3" fill="none" stroke="#f00" stroke-width="2.2" stroke-linejoin="round"/>
<path d="M623.5 831.6h9.2v9.2h-9.2zM653.5 824.3h9.2v9.2h-9.2zM683.4 814.3h9.2v9.2h-9.2zM713 804.3h9.2v9.2h-9.2zM742.7 795h9.2v9.2h-9.2zM772.9 782.4h9.2v9.2h-9.2zM802.6 778.5h9.2v9.2h-9.2zM832.2 768.7h9.2v9.2h-9.2zM862.4 760.4h9.2v9.2h-9.2zM892 748.8h9.2v9.2h-9.2zM922.2 739.8h9.2v9.2h-9.2zM951.8 732.3h9.2v9.2h-9.2zM981.7 728.7h9.2v9.2h-9.2z" fill="none" stroke="#22cc22" stroke-width="1.3"/>
<path d="M628.1 828.9L634.3 840H621.9ZM658.1 829L664.3 840.1H651.9ZM688 827.5L694.2 838.6H681.8ZM717.6 825.3L723.8 836.4H711.4ZM747.3 825.3L753.5 836.4H741.1ZM777.5 825.9L783.7 837H771.3ZM807.2 825.2L813.4 836.3H801ZM836.8 822.6L843 833.7H830.6ZM867 820L873.2 831.1H860.8ZM896.6 821.6L902.8 832.7H890.4ZM926.8 820L933 831.1H920.6ZM956.4 817.7L962.6 828.8H950.2ZM986.3 816.4L992.5 827.5H980.1Z" fill="none" stroke="#7722dd" stroke-width="1.3" stroke-linejoin="miter"/>
<circle cx="628.1" cy="836.2" r="4.9" fill="none" stroke="#f00" stroke-width="1.4"/>
<circle cx="748.5" cy="648.3" r="4.9" fill="none" stroke="#f00" stroke-width="1.4"/>
<circle cx="778.5" cy="605.2" r="4.9" fill="none" stroke="#f00" stroke-width="1.4"/>
<circle cx="809.6" cy="577" r="4.9" fill="none" stroke="#f00" stroke-width="1.4"/>
<circle cx="841.8" cy="556.4" r="4.9" fill="none" stroke="#f00" stroke-width="1.4"/>
<circle cx="872.1" cy="540.2" r="4.9" fill="none" stroke="#f00" stroke-width="1.4"/>
<circle cx="903.1" cy="536.2" r="4.9" fill="none" stroke="#f00" stroke-width="1.4"/>
<circle cx="933.9" cy="515.3" r="4.9" fill="none" stroke="#f00" stroke-width="1.4"/>
<circle cx="967.6" cy="503.6" r="4.9" fill="none" stroke="#f00" stroke-width="1.4"/>
<circle cx="997.4" cy="499.1" r="4.9" fill="none" stroke="#f00" stroke-width="1.4"/>
<text transform="translate(629.77,516.1) scale(1,1.055)" font-size="43" text-anchor="start" >D</text>
<text transform="translate(813.14,511.2) scale(1,1.055)" font-size="21.4" text-anchor="start" >50 <tspan font-family="Liberation Serif">μ</tspan><tspan dx="0.86">g/mL</tspan></text>
<text transform="translate(898.34,717.3) scale(1,1.055)" font-size="21.4" text-anchor="start" >5 <tspan font-family="Liberation Serif">μ</tspan><tspan dx="0.86">g/mL</tspan></text>
<text transform="translate(899.16,808.1) scale(1,1.055)" font-size="21.4" text-anchor="start" >0.5 <tspan font-family="Liberation Serif">μ</tspan><tspan dx="0.86">g/mL</tspan></text>
</g></svg>
</body></html>
